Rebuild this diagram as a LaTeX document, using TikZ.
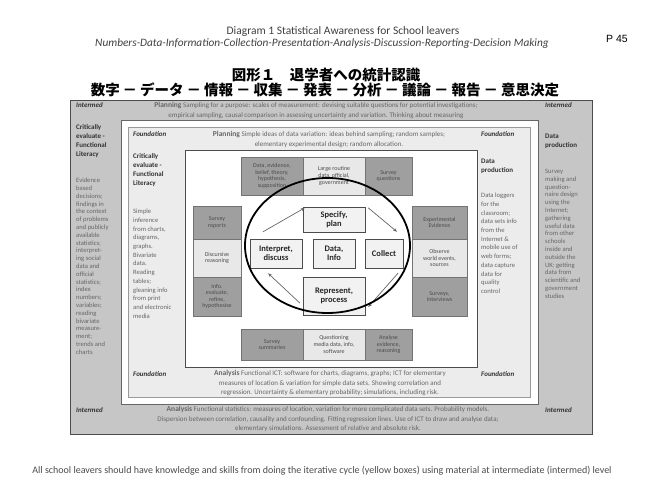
\documentclass[tikz,border=0pt]{standalone}
\usepackage{fontspec}
\setmainfont{Carlito}
\newfontfamily\jpfont{Noto Sans CJK JP}
\newfontfamily\pagefont{Liberation Sans}
\usetikzlibrary{arrows.meta}

\newcommand\jdash{\hspace{3pt}－\hspace{3pt}}

\tikzset{
  dark/.style={draw=black!55, fill=gray!75, align=center, inner sep=1pt,
    font=\fontsize{6}{6.6}\selectfont, text=black!70},
  light/.style={dark, fill=gray!18},
  cyc/.style={draw=black!70, fill=gray!10, align=center, inner sep=1pt,
    font=\bfseries\fontsize{8.5}{9.5}\selectfont, text=black!85},
  tiny/.style={align=left, inner sep=0pt, font=\fontsize{6.6}{7.8}\selectfont,
    text=black!60, anchor=north west},
  band/.style={align=center, inner sep=0pt, font=\fontsize{7}{9.2}\selectfont,
    text=black!60},
  head/.style={inner sep=0pt, font=\bfseries\fontsize{7}{9}\selectfont,
    text=black!80, align=left, anchor=north west},
  lvl/.style={inner sep=0pt, font=\bfseries\itshape\fontsize{7}{8}\selectfont,
    text=black!80, anchor=west},
  cycarrow/.style={-{Stealth[length=4pt,width=3pt]}, draw=black!60, line width=0.7pt},
}

\begin{document}
\begin{tikzpicture}[x=1pt, y=-1pt]
\useasboundingbox (0,0) rectangle (653,489);
\fill[white] (0,0) rectangle (653,489);

% headings
\node[font=\fontsize{11.5}{13}\selectfont, text=black!75] (title) at (343,31)
  {Diagram 1 Statistical Awareness for School leavers};
\node[font=\itshape\fontsize{11.3}{13}\selectfont, text=black!75] (subtitle) at (322,44)
  {Numbers-Data-Information-Collection-Presentation-Analysis-Discussion-Reporting-Decision Making};
\node[font=\pagefont\fontsize{10.5}{12}\selectfont] (page) at (617,39) {P 45};
\node[font=\jpfont\bfseries\fontsize{14.5}{16}\selectfont] (jtitle) at (326,75)
  {図形１　退学者への統計認識};
\node[font=\jpfont\bfseries\fontsize{14.5}{16}\selectfont] (jsub) at (325,90)
  {数字\jdash データ\jdash 情報\jdash 収集\jdash 発表\jdash 分析\jdash 議論\jdash 報告\jdash 意思決定};

% frames
\draw[draw=black!70, fill=gray!45] (70,100) rectangle (592,434);
\draw[draw=black!60, fill=white] (121,120) rectangle (538,404);
\draw[draw=black!40, fill=gray!15] (128,127) rectangle (530,397);
\draw[draw=black!70, fill=white] (185,150) rectangle (477,367);

% intermed level
\node[lvl] (ilt) at (76,105) {Intermed};
\node[lvl] (irt) at (545,105) {Intermed};
\node[lvl] (ilb) at (76,410) {Intermed};
\node[lvl] (irb) at (545,410) {Intermed};
\node[band] (iplan) at (316,110.5)
  {{\bfseries\fontsize{7.5}{9}\selectfont Planning} Sampling for a purpose: scales of measurement: devising suitable questions for potential investigations;\\
   empirical sampling, causal comparison in assessing uncertainty and variation. Thinking about measuring};
\node[band] (iana) at (328,419)
  {{\bfseries\fontsize{7.5}{9}\selectfont Analysis} Functional statistics: measures of location, variation for more complicated data sets. Probability models.\\
   Dispersion between correlation, causality and confounding. Fitting regression lines. Use of ICT to draw and analyse data;\\
   elementary simulations. Assessment of relative and absolute risk.};
\node[head] (icrit) at (76,124) {Critically\\evaluate -\\Functional\\Literacy};
\node[tiny] (itxtl) at (76,178) {Evidence\\based\\decisions;\\findings in\\the context\\of problems\\and publicly\\available\\statistics;\\interpret-\\ing social\\data and\\official\\statistics;\\index\\numbers;\\variables;\\reading\\bivariate\\measure-\\ment;\\trends and\\charts};
\node[head] (idata) at (545,134) {Data\\production};
\node[tiny] (itxtr) at (545,169) {Survey\\making and\\question-\\naire design\\using the\\Internet;\\gathering\\useful data\\from other\\schools\\inside and\\outside the\\UK; getting\\data from\\scientific and\\government\\studies};

% foundation level
\node[lvl] (flt) at (133,134) {Foundation};
\node[lvl] (frt) at (481,134) {Foundation};
\node[lvl] (flb) at (133,374) {Foundation};
\node[lvl] (frb) at (481,374) {Foundation};
\node[band] (fplan) at (329,139.5)
  {{\bfseries\fontsize{7.5}{9}\selectfont Planning} Simple ideas of data variation: ideas behind sampling; random samples;\\
   elementary experimental design; random allocation.};
\node[band] (fana) at (330,383)
  {{\bfseries\fontsize{7.5}{9}\selectfont Analysis} Functional ICT: software for charts, diagrams, graphs; ICT for elementary\\
   measures of location \& variation for simple data sets. Showing correlation and\\
   regression. Uncertainty \& elementary probability; simulations, including risk.};
\node[head] (fcrit) at (133,153) {Critically\\evaluate -\\Functional\\Literacy};
\node[tiny, font=\fontsize{6.6}{8.7}\selectfont] (ftxtl) at (133,209) {Simple\\inference\\from charts,\\diagrams,\\graphs.\\Bivariate\\data.\\Reading\\tables;\\gleaning info\\from print\\and electronic\\media};
\node[head] (fdata) at (481,159) {Data\\production};
\node[tiny, font=\fontsize{6.6}{8.7}\selectfont] (ftxtr) at (481,193) {Data loggers\\for the\\classroom;\\data sets info\\from the\\Internet \&\\mobile use of\\web forms;\\data capture\\data for\\quality\\control};

% activity boxes round the cycle
\node[dark, minimum width=62pt, minimum height=38pt] (ta) at (272,176) {Data, evidence,\\belief, theory,\\hypothesis,\\supposition};
\node[light, minimum width=62pt, minimum height=38pt] (tb) at (334,176) {Large routine\\data, official,\\government};
\node[dark, minimum width=47pt, minimum height=38pt] (tc) at (388.5,176) {Survey\\questions};
\node[dark, minimum width=48pt, minimum height=33pt] (la) at (217,222.5) {Survey\\reports};
\node[light, minimum width=48pt, minimum height=38pt] (lb) at (217,258) {Discursive\\reasoning};
\node[dark, minimum width=48pt, minimum height=39pt] (lc) at (217,296.5) {Info.\\evaluate,\\refine,\\hypothesise};
\node[dark, minimum width=55pt, minimum height=33pt] (ra) at (439.5,222.5) {Experimental\\Evidence};
\node[light, minimum width=55pt, minimum height=38pt] (rb) at (439.5,258) {Observe\\world events,\\sources};
\node[dark, minimum width=55pt, minimum height=39pt] (rc) at (439.5,296.5) {Surveys,\\interviews};
\node[dark, minimum width=62pt, minimum height=31pt] (ba) at (272,344.5) {Survey\\summaries};
\node[light, minimum width=62pt, minimum height=31pt] (bb) at (334,344.5) {Questioning\\media data, info,\\software};
\node[dark, minimum width=47pt, minimum height=31pt] (bc) at (388.5,344.5) {Analyse\\evidence,\\reasoning};

% the cycle
\node[cyc, minimum width=62pt, minimum height=25pt] (spec) at (334,219.5) {Specify,\\plan};
\node[cyc, minimum width=52pt, minimum height=29pt] (interp) at (276,253.5) {Interpret,\\discuss};
\node[cyc, minimum width=42pt, minimum height=29pt] (data) at (334,253.5) {Data,\\Info};
\node[cyc, minimum width=38pt, minimum height=29pt] (collect) at (384,253.5) {Collect};
\node[cyc, minimum width=62pt, minimum height=38pt] (repr) at (334,296) {Represent,\\process};

\draw[cycarrow] ([shift={(-13pt,7pt)}]interp.north) -- ([shift={(2pt,-1pt)}]spec.north west);
\draw[cycarrow] ([shift={(3pt,-1pt)}]spec.north east) -- ([shift={(13pt,7pt)}]collect.north);
\draw[cycarrow] ([shift={(14pt,-5pt)}]collect.south) -- ([shift={(3pt,-11pt)}]repr.east);
\draw[cycarrow] ([shift={(-3pt,-7pt)}]repr.west) -- ([shift={(-8pt,-5pt)}]interp.south);

\draw[line width=1.8pt] (327.5,245.5) ellipse [x radius=82.5pt, y radius=67.5pt];

% footer
\node[font=\fontsize{10}{11}\selectfont, text=black!70] (note) at (322,471)
  {All school leavers should have knowledge and skills from doing the iterative cycle (yellow boxes) using material at intermediate (intermed) level};
\end{tikzpicture}
\end{document}
